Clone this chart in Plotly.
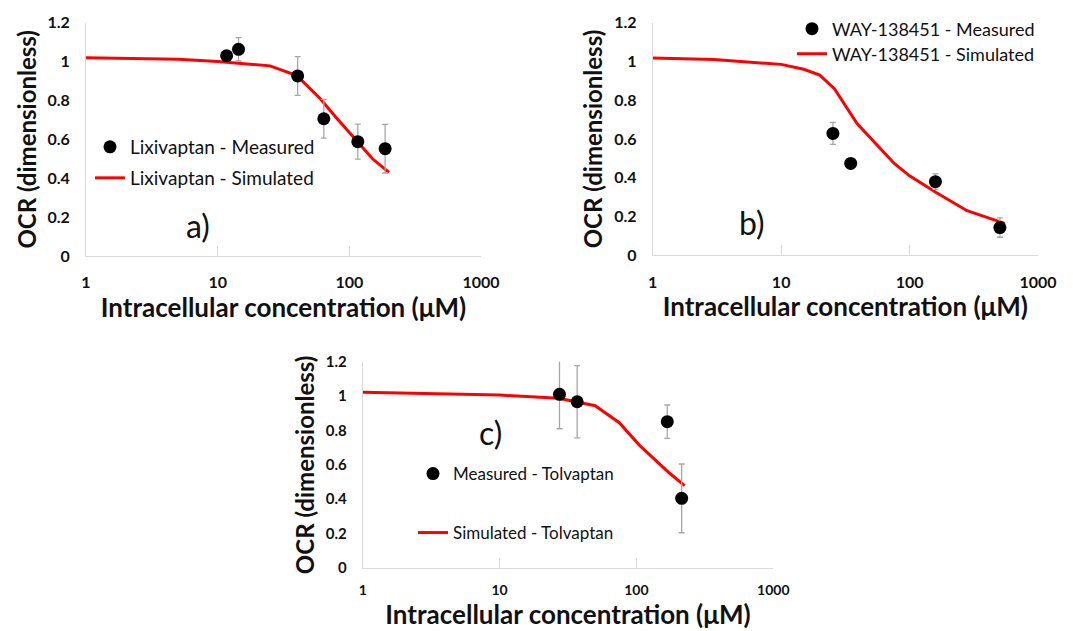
import plotly.graph_objects as go

# ---------------- data ----------------
x_tickvals = [1, 10, 100, 1000]
x_ticktext = ["1", "10", "100", "1000"]
y_tickvals = [0, 0.2, 0.4, 0.6, 0.8, 1.0, 1.2]
y_ticktext = ["0", "0.2", "0.4", "0.6", "0.8", "1", "1.2"]

# a) Lixivaptan
a_meas_x = [11.7, 14.4, 40.5, 64, 116, 187]
a_meas_y = [1.03, 1.063, 0.926, 0.706, 0.588, 0.552]
a_meas_err = [0.02, 0.06, 0.10, 0.10, 0.09, 0.125]
a_sim_x = [1, 2, 5, 10, 25, 40, 60, 80, 100, 150, 200]
a_sim_y = [1.02, 1.018, 1.012, 1.0, 0.978, 0.928, 0.81, 0.71, 0.635, 0.5, 0.43]

# b) WAY-138451
b_meas_x = [25.3, 34.8, 159, 505]
b_meas_y = [0.629, 0.474, 0.38, 0.143]
b_meas_err = [0.057, 0.01, 0.04, 0.05]
b_sim_x = [1, 3, 10, 15, 20, 26, 39, 76, 100, 160, 280, 500, 550]
b_sim_y = [1.018, 1.01, 0.985, 0.96, 0.93, 0.86, 0.68, 0.474, 0.41, 0.325, 0.23, 0.175, 0.165]

# c) Tolvaptan
c_meas_x = [27.4, 36.9, 168, 214]
c_meas_y = [1.01, 0.967, 0.851, 0.405]
c_meas_err = [0.2, 0.21, 0.097, 0.2]
c_sim_x = [1, 10, 27, 50, 75, 105, 175, 225]
c_sim_y = [1.022, 1.006, 0.987, 0.944, 0.845, 0.715, 0.551, 0.479]

names = {
    "a_meas": "Lixivaptan - Measured", "a_sim": "Lixivaptan - Simulated",
    "b_meas": "WAY-138451 - Measured", "b_sim": "WAY-138451 - Simulated",
    "c_meas": "Measured - Tolvaptan", "c_sim": "Simulated - Tolvaptan",
}
x_title = "Intracellular concentration (\u03bcM)"
y_title = "OCR (dimensionless)"

# ---------------- styling ----------------
W, H = 1073, 631
FONT = "Lato"
TXT = "#111111"
RED = "#ff0000"
AXC = "#d9d9d9"

fig = go.Figure()

def meas(x, y, err, xa, ya, name, legend):
    return go.Scatter(
        x=x, y=y, mode="markers", name=name, xaxis=xa, yaxis=ya, legend=legend,
        marker=dict(color="black", size=13),
        error_y=dict(type="data", array=err, visible=True, color="#a6a6a6", thickness=1.3, width=3),
    )

def sim(x, y, xa, ya, name, legend):
    return go.Scatter(
        x=x, y=y, mode="lines", name=name, xaxis=xa, yaxis=ya, legend=legend,
        line=dict(color=RED, width=3),
    )

fig.add_trace(sim(a_sim_x, a_sim_y, "x", "y", names["a_sim"], "legend2"))
fig.add_trace(meas(a_meas_x, a_meas_y, a_meas_err, "x", "y", names["a_meas"], "legend"))
fig.add_trace(sim(b_sim_x, b_sim_y, "x2", "y2", names["b_sim"], "legend4"))
fig.add_trace(meas(b_meas_x, b_meas_y, b_meas_err, "x2", "y2", names["b_meas"], "legend3"))
fig.add_trace(sim(c_sim_x, c_sim_y, "x3", "y3", names["c_sim"], "legend6"))
fig.add_trace(meas(c_meas_x, c_meas_y, c_meas_err, "x3", "y3", names["c_meas"], "legend5"))

def px_x(p):
    return p / W

def px_y(p):
    return 1 - p / H

def xaxis(domain, anchor, tsize=16, tstand=12, title_stand=6):
    return dict(
        type="log", range=[0, 3], domain=domain, anchor=anchor,
        tickvals=x_tickvals, ticktext=x_ticktext,
        ticks="inside", ticklen=10, tickcolor=AXC, tickwidth=1,
        showline=True, linecolor=AXC, linewidth=1, mirror=False,
        showgrid=False, zeroline=False, automargin=False,
        tickfont=dict(family=FONT, size=tsize, color=TXT, weight="bold"),
        ticklabelstandoff=tstand,
        title=dict(text=x_title, font=dict(family=FONT, size=26, color=TXT, weight="bold"),
                   standoff=title_stand),
    )

def yaxis(domain, anchor, tsize=16):
    return dict(
        range=[0, 1.2], domain=domain, anchor=anchor,
        tickvals=y_tickvals, ticktext=y_ticktext, ticks="",
        showline=True, linecolor=AXC, linewidth=1,
        showgrid=False, zeroline=False, automargin=False,
        tickfont=dict(family=FONT, size=tsize, color=TXT, weight="bold"),
        ticklabelstandoff=12,
        title=dict(text=y_title, font=dict(family=FONT, size=24, color=TXT, weight="bold"), standoff=4),
    )

fig.update_layout(
    xaxis=xaxis([px_x(86), px_x(481)], "y"),
    yaxis=yaxis([px_y(256), px_y(22.7)], "x"),
    xaxis2=xaxis([px_x(652.7), px_x(1038)], "y2"),
    yaxis2=yaxis([px_y(255.3), px_y(22.7)], "x2"),
    xaxis3=xaxis([px_x(362.7), px_x(773.3)], "y3", tsize=14, tstand=9, title_stand=5),
    yaxis3=yaxis([px_y(568), px_y(361.7)], "x3", tsize=15),
)

def leg(xpx, ypx, size):
    return dict(
        x=px_x(xpx), y=px_y(ypx), xanchor="left", yanchor="middle",
        bgcolor="rgba(0,0,0,0)", borderwidth=0, itemwidth=30,
        font=dict(family=FONT, size=size, color=TXT),
    )

fig.update_layout(
    legend=leg(90, 147, 19),
    legend2=leg(90, 178, 19),
    legend3=leg(792, 29, 18),
    legend4=leg(792, 54, 18),
    legend5=leg(413, 474, 17),
    legend6=leg(413, 533, 17),
)

labels = [("a)", 198, 225), ("b)", 752, 222), ("c)", 490, 432)]
for t, xp, yp in labels:
    fig.add_annotation(
        text=t, x=px_x(xp), y=px_y(yp), xref="paper", yref="paper",
        showarrow=False, xanchor="center", yanchor="middle",
        font=dict(family=FONT, size=32, color=TXT),
    )

fig.update_layout(
    width=W, height=H, margin=dict(l=0, r=0, t=0, b=0),
    paper_bgcolor="white", plot_bgcolor="white", showlegend=True,
)

fig.write_html("out.html")
